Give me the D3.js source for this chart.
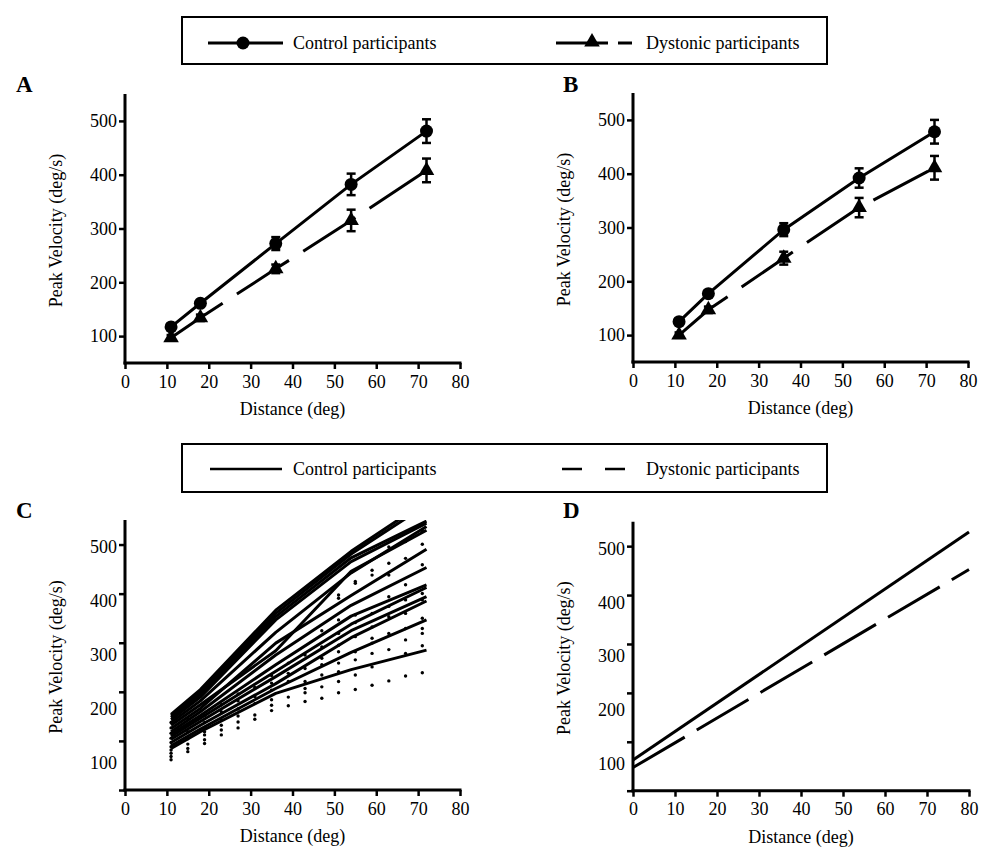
<!DOCTYPE html>
<html>
<head>
<meta charset="utf-8">
<script src="https://cdn.jsdelivr.net/npm/d3@7/dist/d3.min.js"></script>
<style>
  html, body { margin: 0; padding: 0; background: #fff; }
  svg { display: block; }
  svg text { font-family: "Liberation Serif", "Tinos", "Times New Roman", Times, "DejaVu Serif", serif !important; fill: #000; }
</style>
</head>
<body>
<svg id="chart" width="996" height="862"></svg>
<script>
// ---------------- DATA ----------------
const xTickValues = [0, 10, 20, 30, 40, 50, 60, 70, 80];
const yTickValues = [100, 200, 300, 400, 500];
const yTickMarksCD = [0, 100, 200, 300, 400, 500];

const distances = [11, 18, 36, 54, 72];

// Panel A
const controlA = [117, 161, 272, 382, 481];
const controlAErr = [5, 6, 12, 20, 22];
const dystonicA = [97, 134, 225, 315, 408];
const dystonicAErr = [5, 6, 8, 20, 22];

// Panel B
const controlB = [125, 177, 296, 392, 478];
const controlBErr = [5, 6, 12, 18, 22];
const dystonicB = [100, 147, 243, 337, 411];
const dystonicBErr = [5, 6, 12, 18, 22];

// Panel C : individual control participant lines (values at distances)
const controlIndividuals = [
  [190, 236, 383, 492, 585],
  [187, 231, 377, 487, 578],
  [184, 227, 371, 480, 548],
  [180, 222, 365, 473, 544],
  [175, 215, 342, 452, 538],
  [170, 208, 308, 455, 531],
  [164, 201, 322, 410, 496],
  [158, 195, 300, 392, 462],
  [153, 188, 282, 372, 430],
  [149, 183, 270, 357, 425],
  [144, 177, 260, 345, 408],
  [138, 170, 247, 332, 400],
  [132, 163, 238, 305, 365],
  [127, 158, 229, 273, 309]
];

// Panel C : dystonic participant points
const dotColumns = [11, 15, 19, 23, 27, 31, 35, 39, 43, 47, 51, 55, 59, 63, 67, 71];
const dotValues = [
  [106, 112, 118, 124, 130, 138, 146, 155, 165, 175],
  [121, 127, 135, 145, 158, 170, 182],
  [136, 143, 152, 158, 164, 175, 188],
  [152, 161, 170, 180, 195, 208],
  [165, 176, 187, 200, 215, 228],
  [181, 189, 210, 223, 240],
  [197, 207, 217, 235, 248, 262],
  [206, 222, 251, 266, 285],
  [214, 230, 238, 251, 275, 300],
  [220, 241, 263, 282, 294, 315, 345],
  [230, 251, 269, 285, 306, 318, 340, 365, 405, 411],
  [236, 263, 291, 306, 334, 360, 374, 433, 436],
  [244, 278, 303, 322, 331, 352, 377, 448, 457],
  [252, 310, 340, 371, 390, 408, 448, 470, 500],
  [261, 303, 328, 349, 377, 402, 430, 479, 510],
  [267, 317, 340, 349, 368, 402, 414, 467, 505, 530]
];

// Panel D : regression lines (value at x = 0 and x = 80)
const regressionX = [0, 80];
const controlRegression = [107, 531];
const dystonicRegression = [93, 461];

// ---------------- DRAW ----------------
const svg = d3.select("#chart");
const FONT = 18;
const SERIF = '"Liberation Serif", "Tinos", "Times New Roman", Times, "DejaVu Serif", serif';

function panel(opts) {
  const g = svg.append("g");
  const x = d3.scaleLinear().domain([0, 80]).range([opts.x0, opts.x1]);
  const y = d3.scaleLinear().domain([50, 550]).range([opts.y0, opts.y1]);

  const clipId = "clip" + opts.letter;
  svg.append("clipPath").attr("id", clipId).append("rect")
    .attr("x", opts.x0 - 10).attr("y", opts.y1)
    .attr("width", opts.x1 - opts.x0 + 20).attr("height", opts.y0 - opts.y1 + 10);

  const xa = g.append("g").attr("transform", `translate(0,${opts.y0})`)
    .call(d3.axisBottom(x).tickValues(xTickValues).tickSize(6).tickPadding(6).tickSizeOuter(0));
  xa.attr("font-family", null).attr("font-size", null);
  xa.select(".domain").attr("stroke-width", 3).attr("d", `M${opts.x0 - 1.5},0H${opts.x1 + 1.5}`);
  xa.selectAll(".tick line").attr("stroke-width", 2.5);
  xa.selectAll("text").style("font-size", FONT + "px");

  if (!opts.splitTicks) {
    const ya = g.append("g").attr("transform", `translate(${opts.x0},0)`)
      .call(d3.axisLeft(y).tickValues(yTickValues).tickSize(6).tickPadding(2).tickSizeOuter(0));
    ya.attr("font-family", null).attr("font-size", null);
    ya.select(".domain").attr("stroke-width", 3).attr("d", `M0,${opts.y0 + 1.5}V${opts.y1}`);
    ya.selectAll(".tick line").attr("stroke-width", 2.5);
    ya.selectAll("text").style("font-size", FONT + "px");
  } else {
    const yt = d3.scaleLinear().domain([0, 550]).range([opts.y0, opts.y1]);
    const ya = g.append("g").attr("transform", `translate(${opts.x0},0)`)
      .call(d3.axisLeft(yt).tickValues(yTickMarksCD).tickSize(6).tickFormat("").tickSizeOuter(0));
    ya.select(".domain").attr("stroke-width", 3).attr("d", `M0,${opts.y0 + 1.5}V${opts.y1}`);
    ya.selectAll(".tick line").attr("stroke-width", 2.5);
    const yl = g.append("g").attr("transform", `translate(${opts.x0},0)`)
      .call(d3.axisLeft(y).tickValues(yTickValues).tickSize(0).tickPadding(8));
    yl.attr("font-family", null).attr("font-size", null);
    yl.select(".domain").remove();
    yl.selectAll("text").style("font-size", FONT + "px");
  }

  g.append("text").attr("x", opts.letterX).attr("y", opts.letterY)
    .style("font-size", "23px").style("font-weight", "bold").text(opts.letter);
  g.append("text").attr("transform", `translate(${opts.ylabX},${(opts.y0 + opts.y1) / 2 + 2}) rotate(-90)`)
    .attr("text-anchor", "middle").attr("dominant-baseline", "central")
    .style("font-size", FONT + "px").text("Peak Velocity (deg/s)");
  g.append("text").attr("x", (opts.x0 + opts.x1) / 2).attr("y", opts.y0 + 52)
    .attr("text-anchor", "middle").style("font-size", FONT + "px").text("Distance (deg)");

  return { g, x, y, clipId };
}

function meanPanel(p, ctrl, ctrlErr, dyst, dystErr) {
  const line = d3.line().x((d, i) => p.x(distances[i])).y(d => p.y(d));
  p.g.append("path").datum(ctrl).attr("d", line)
    .attr("fill", "none").attr("stroke", "#000").attr("stroke-width", 3);
  p.g.append("path").datum(dyst).attr("d", line)
    .attr("fill", "none").attr("stroke", "#000").attr("stroke-width", 3)
    .attr("stroke-dasharray", "62,17");

  function errBars(vals, errs) {
    const eg = p.g.append("g");
    vals.forEach((v, i) => {
      const cx = p.x(distances[i]);
      const top = p.y(v + errs[i]), bot = p.y(v - errs[i]);
      eg.append("line").attr("x1", cx).attr("x2", cx).attr("y1", top).attr("y2", bot)
        .attr("stroke", "#000").attr("stroke-width", 2.5);
      [top, bot].forEach(yy => eg.append("line").attr("x1", cx - 4.5).attr("x2", cx + 4.5)
        .attr("y1", yy).attr("y2", yy).attr("stroke", "#000").attr("stroke-width", 2.5));
    });
  }
  errBars(ctrl, ctrlErr);
  errBars(dyst, dystErr);

  p.g.selectAll(null).data(ctrl).enter().append("circle")
    .attr("cx", (d, i) => p.x(distances[i])).attr("cy", d => p.y(d)).attr("r", 6.5).attr("fill", "#000");
  const tri = d3.symbol().type(d3.symbolTriangle).size(105);
  p.g.selectAll(null).data(dyst).enter().append("path")
    .attr("d", tri).attr("transform", (d, i) => `translate(${p.x(distances[i])},${p.y(d)})`).attr("fill", "#000");
}

const pA = panel({ letter: "A", x0: 125, x1: 460, y0: 363, y1: 94, letterX: 16, letterY: 92, ylabX: 56 });
meanPanel(pA, controlA, controlAErr, dystonicA, dystonicAErr);

const pB = panel({ letter: "B", x0: 633, x1: 968, y0: 362, y1: 93, letterX: 563, letterY: 92, ylabX: 564 });
meanPanel(pB, controlB, controlBErr, dystonicB, dystonicBErr);

const pC = panel({ letter: "C", x0: 125, x1: 460, y0: 790, y1: 520, letterX: 16, letterY: 518, ylabX: 56, splitTicks: true });
{
  const cg = pC.g.append("g").attr("clip-path", `url(#${pC.clipId})`);
  dotColumns.forEach((cx, ci) => {
    cg.selectAll(null).data(dotValues[ci]).enter().append("circle")
      .attr("cx", pC.x(cx)).attr("cy", d => pC.y(d)).attr("r", 1.7).attr("fill", "#000");
  });
  const line = d3.line().x((d, i) => pC.x(distances[i])).y(d => pC.y(d));
  cg.selectAll(null).data(controlIndividuals).enter().append("path")
    .attr("d", line).attr("fill", "none").attr("stroke", "#000").attr("stroke-width", 3)
    .attr("stroke-linejoin", "round");
}

const pD = panel({ letter: "D", x0: 633, x1: 969, y0: 790.7, y1: 521.7, letterX: 563, letterY: 518, ylabX: 564, splitTicks: true });
{
  const line = d3.line().x((d, i) => pD.x(regressionX[i])).y(d => pD.y(d));
  pD.g.append("path").datum(controlRegression).attr("d", line)
    .attr("fill", "none").attr("stroke", "#000").attr("stroke-width", 3);
  pD.g.append("path").datum(dystonicRegression).attr("d", line)
    .attr("fill", "none").attr("stroke", "#000").attr("stroke-width", 3)
    .attr("stroke-dasharray", "60,14");
}

// ---------------- LEGENDS ----------------
function legendBox(y0, y1) {
  svg.append("rect").attr("x", 182).attr("y", y0).attr("width", 645).attr("height", y1 - y0)
    .attr("fill", "none").attr("stroke", "#000").attr("stroke-width", 2);
}
legendBox(17, 64);
{
  const ly = 43;
  svg.append("line").attr("x1", 208).attr("x2", 283).attr("y1", ly).attr("y2", ly).attr("stroke", "#000").attr("stroke-width", 3);
  svg.append("circle").attr("cx", 243).attr("cy", ly).attr("r", 6.5).attr("fill", "#000");
  svg.append("text").attr("x", 293).attr("y", ly).attr("dominant-baseline", "central").style("font-size", FONT + "px").text("Control participants");
  svg.append("line").attr("x1", 556).attr("x2", 608).attr("y1", ly).attr("y2", ly).attr("stroke", "#000").attr("stroke-width", 3);
  svg.append("line").attr("x1", 618).attr("x2", 632).attr("y1", ly).attr("y2", ly).attr("stroke", "#000").attr("stroke-width", 3);
  svg.append("path").attr("d", d3.symbol().type(d3.symbolTriangle).size(105)).attr("transform", `translate(592,${ly - 1})`).attr("fill", "#000");
  svg.append("text").attr("x", 646).attr("y", ly).attr("dominant-baseline", "central").style("font-size", FONT + "px").text("Dystonic participants");
}
legendBox(444, 492);
{
  const ly = 469;
  svg.append("line").attr("x1", 210).attr("x2", 282).attr("y1", ly).attr("y2", ly).attr("stroke", "#000").attr("stroke-width", 2.5);
  svg.append("text").attr("x", 293).attr("y", ly).attr("dominant-baseline", "central").style("font-size", FONT + "px").text("Control participants");
  svg.append("line").attr("x1", 562).attr("x2", 625).attr("y1", ly).attr("y2", ly).attr("stroke", "#000").attr("stroke-width", 2.5).attr("stroke-dasharray", "20,23");
  svg.append("text").attr("x", 646).attr("y", ly).attr("dominant-baseline", "central").style("font-size", FONT + "px").text("Dystonic participants");
}
</script>
</body>
</html>
